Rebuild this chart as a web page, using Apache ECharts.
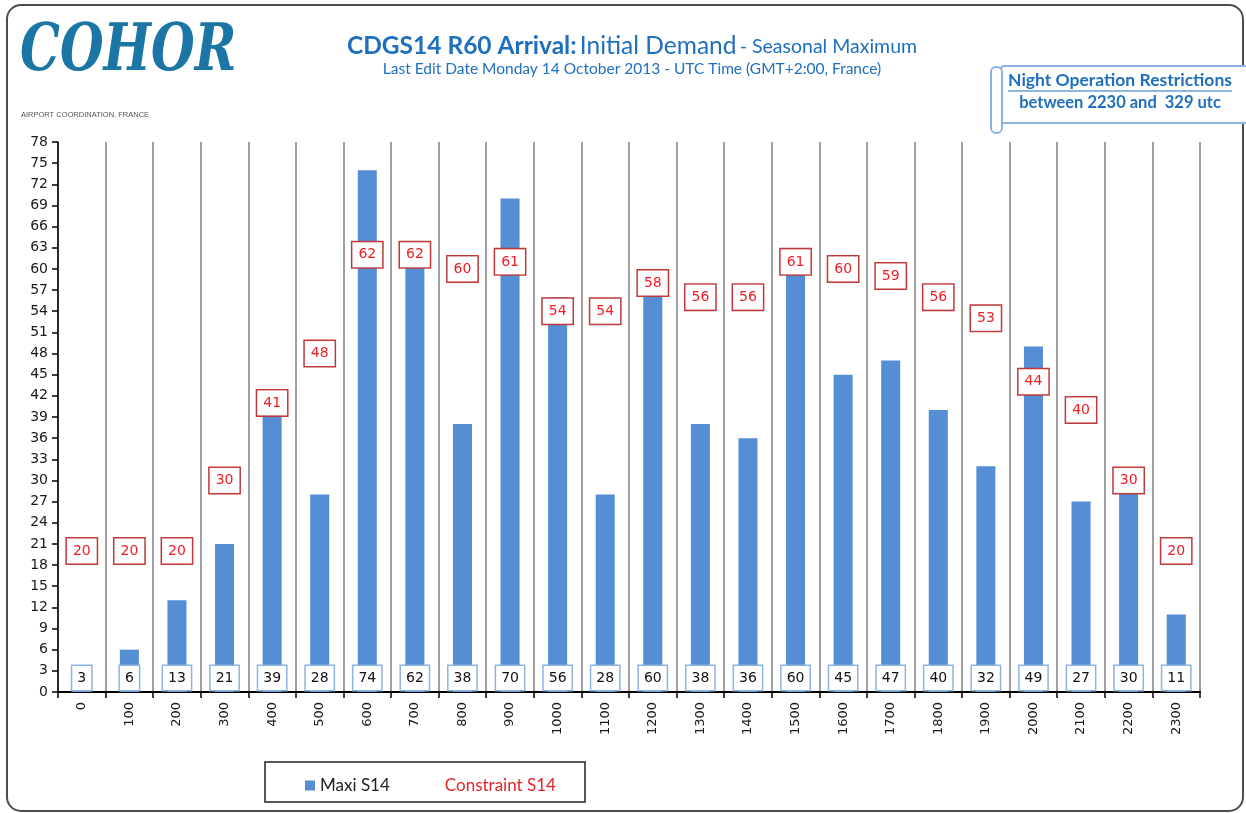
<!DOCTYPE html>
<html>
<head>
<meta charset="utf-8">
<script src="https://cdn.jsdelivr.net/npm/echarts@6/dist/echarts.min.js"></script>
<style>
html,body{margin:0;padding:0;background:#fff;}
#chart{width:1246px;height:813px;}
</style>
</head>
<body>
<div id="chart"></div>
<script>
const hours = ['0','100','200','300','400','500','600','700','800','900','1000','1100','1200','1300','1400','1500','1600','1700','1800','1900','2000','2100','2200','2300'];
const maxiS14 = [3,6,13,21,39,28,74,62,38,70,56,28,60,38,36,60,45,47,40,32,49,27,30,11];
const constraintS14 = [20,20,20,30,41,48,62,62,60,61,54,54,58,56,56,61,60,59,56,53,44,40,30,20];
const yMin = 0, yMax = 78, yStep = 3;

const blue = '#1F6FBF';
const chart = echarts.init(document.getElementById('chart'));
chart.setOption({
  animation: false,
  backgroundColor: '#fff',
  grid: { left: 58, right: 46, top: 142, bottom: 121 },
  xAxis: {
    type: 'category',
    data: hours,
    boundaryGap: true,
    axisLine: { lineStyle: { color: '#000', width: 2 } },
    axisTick: { show: true, length: 6, interval: 0, lineStyle: { color: '#000', width: 1.5 } },
    axisLabel: { rotate: 90, interval: 0, margin: 10, fontSize: 13, color: '#1a1a1a', fontFamily: 'DejaVu Sans' },
    splitLine: { show: true, interval: 0, lineStyle: { color: '#A0A0A0', width: 2 } }
  },
  yAxis: {
    type: 'value',
    min: yMin, max: yMax, interval: yStep,
    axisLine: { show: true, lineStyle: { color: '#000', width: 1.5 } },
    axisTick: { show: true, length: 6, lineStyle: { color: '#000', width: 1.5 } },
    axisLabel: { fontSize: 14, color: '#1a1a1a', fontFamily: 'DejaVu Sans', margin: 10 },
    splitLine: { show: false }
  },
  legend: {
    left: 300, top: 772,
    itemWidth: 10, itemHeight: 10, itemGap: 40,
    textStyle: { fontSize: 17, fontFamily: 'Lato', color: '#222' },
    data: [
      { name: 'Maxi S14', icon: 'rect' },
      { name: 'Constraint S14', icon: 'none', textStyle: { color: '#E0262B' } }
    ]
  },
  series: [
    {
      name: 'Maxi S14',
      type: 'bar',
      data: maxiS14,
      barWidth: '40%',
      z: 2,
      itemStyle: { color: '#558ED5' },
      label: {
        show: true, position: 'insideBottom', distance: 2,
        color: '#111', fontSize: 14, fontFamily: 'DejaVu Sans', lineHeight: 16,
        backgroundColor: '#fff', borderColor: '#8DB3E2', borderWidth: 1.5, padding: [4, 5, 4, 5]
      }
    },
    {
      name: 'Constraint S14',
      type: 'scatter',
      data: constraintS14,
      symbolSize: 1,
      z: 5,
      itemStyle: { color: 'rgba(0,0,0,0)', opacity: 1 },
      emphasis: { disabled: true },
      label: {
        show: true, position: 'inside',
        color: '#F01E24', fontSize: 14, fontFamily: 'DejaVu Sans', lineHeight: 16,
        backgroundColor: '#fff', borderColor: '#C0393B', borderWidth: 1.5, padding: [5, 6, 4, 6]
      }
    }
  ],
  graphic: [
    { type: 'rect', shape: { x: 7, y: 5, width: 1236, height: 806, r: 14 }, style: { fill: 'none', stroke: '#4d4d4d', lineWidth: 2 }, z: 0 },
    { type: 'text', x: 20, y: 20, scaleX: 0.76, style: { text: 'COHOR', font: 'italic bold 66px "DejaVu Serif"', fill: '#1B75A5' } },
    { type: 'text', x: 21, y: 111, style: { text: 'AIRPORT COORDINATION, FRANCE', font: '7.5px "Liberation Sans Narrow", "Liberation Sans"', fill: '#555' } },
    { type: 'text', x: 632, y: 34, style: {
        text: '{b|CDGS14 R60 Arrival:} {n|Initial Demand} {s|- Seasonal Maximum}',
        align: 'center', fill: blue,
        rich: {
          b: { font: 'bold 24.5px Lato', fill: blue },
          n: { font: '24.5px Lato', fill: blue },
          s: { font: '19.5px Lato', fill: blue }
        }
      } },
    { type: 'text', x: 632, y: 61, style: { text: 'Last Edit Date Monday 14 October 2013 - UTC Time (GMT+2:00, France)', align: 'center', font: '15.5px Lato', fill: blue } },
    { type: 'rect', shape: { x: 1001, y: 66, width: 250, height: 57, r: 3 }, style: { fill: '#fff', stroke: '#8DB3E2', lineWidth: 2 } },
    { type: 'rect', shape: { x: 991, y: 67, width: 11, height: 66, r: 5 }, style: { fill: '#fff', stroke: '#8DB3E2', lineWidth: 2 } },
    { type: 'text', x: 1120, y: 71, style: { text: 'Night Operation Restrictions', align: 'center', font: 'bold 17.5px Lato', fill: blue } },
    { type: 'line', shape: { x1: 1008, y1: 91, x2: 1232, y2: 91 }, style: { stroke: blue, lineWidth: 1.2 } },
    { type: 'text', x: 1120, y: 94, style: { text: 'between 2230 and  329 utc', align: 'center', font: 'bold 16.5px Lato', fill: blue } },
    { type: 'rect', shape: { x: 265, y: 762, width: 320, height: 40 }, style: { fill: 'none', stroke: '#222', lineWidth: 1.5 } }
  ]
});
</script>
</body>
</html>
